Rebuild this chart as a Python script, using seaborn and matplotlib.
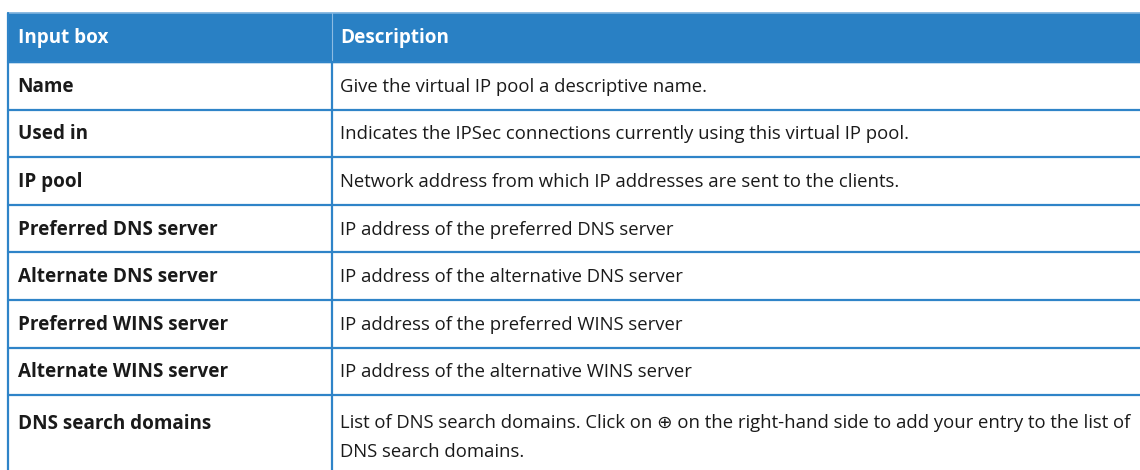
import matplotlib
matplotlib.use("Agg")
import matplotlib.pyplot as plt
from matplotlib import font_manager
import seaborn as sns

# table content
header = ["Input box", "Description"]
fields = [
    "Name",
    "Used in",
    "IP pool",
    "Preferred DNS server",
    "Alternate DNS server",
    "Preferred WINS server",
    "Alternate WINS server",
    "DNS search domains",
]
descriptions = [
    "Give the virtual IP pool a descriptive name.",
    "Indicates the IPSec connections currently using this virtual IP pool.",
    "Network address from which IP addresses are sent to the clients.",
    "IP address of the preferred DNS server",
    "IP address of the alternative DNS server",
    "IP address of the preferred WINS server",
    "IP address of the alternative WINS server",
    "List of DNS search domains. Click on \u2295 on the right-hand side to add your entry to the list of\nDNS search domains.",
]

sns.set_theme(style="white")
names = {f.name for f in font_manager.fontManager.ttflist}
font = "Liberation Sans Narrow" if "Liberation Sans Narrow" in names else "Open Sans"
plt.rcParams["font.family"] = [font, "DejaVu Sans"]

blue = "#2980c4"
line_blue = "#2f84c8"
txt = "#1a1a1a"

W, H = 1140, 470
fig = plt.figure(figsize=(W / 100, H / 100), dpi=100)
ax = fig.add_axes([0, 0, 1, 1])
ax.set_xlim(0, W)
ax.set_ylim(H, 0)
ax.axis("off")

left, split = 7.5, 332
head_top, head_bot = 13, 62
row_h = 47.6
fs = 13.3
fs_b = 13.6

# header band
ax.add_patch(plt.Rectangle((left, head_top), W - left, head_bot - head_top,
                           color=blue, zorder=1))
ax.plot([left, W], [head_top, head_top], color="#7fb3de", lw=1.2, zorder=2)
ax.plot([split, split], [head_top, head_bot], color="#8dbbe2", lw=0.8, zorder=2)
ax.text(left + 10, (head_top + head_bot) / 2 + 1, header[0], color="white",
        fontsize=fs_b, fontweight="bold", va="center", ha="left")
ax.text(split + 8, (head_top + head_bot) / 2 + 1, header[1], color="white",
        fontsize=fs_b, fontweight="bold", va="center", ha="left")

# body rows
for i, (f, d) in enumerate(zip(fields, descriptions)):
    top = head_bot + i * row_h
    ax.plot([left, W], [top, top], color=line_blue, lw=1.6, zorder=3)
    if "\n" in d:
        y = top + 19
        ax.text(left + 10, y, f, color=txt, fontsize=fs_b, fontweight="bold",
                va="top", ha="left")
        ax.text(split + 8, y, d, color=txt, fontsize=fs, va="top", ha="left",
                linespacing=1.8)
    else:
        y = top + row_h / 2 + 1
        ax.text(left + 10, y, f, color=txt, fontsize=fs_b, fontweight="bold",
                va="center", ha="left")
        ax.text(split + 8, y, d, color=txt, fontsize=fs, va="center", ha="left")

# vertical rules
ax.plot([left, left], [head_top, H], color=line_blue, lw=1.6, zorder=3)
ax.plot([split, split], [head_bot, H], color=line_blue, lw=1.6, zorder=3)

fig.savefig("out.png", dpi=100)
